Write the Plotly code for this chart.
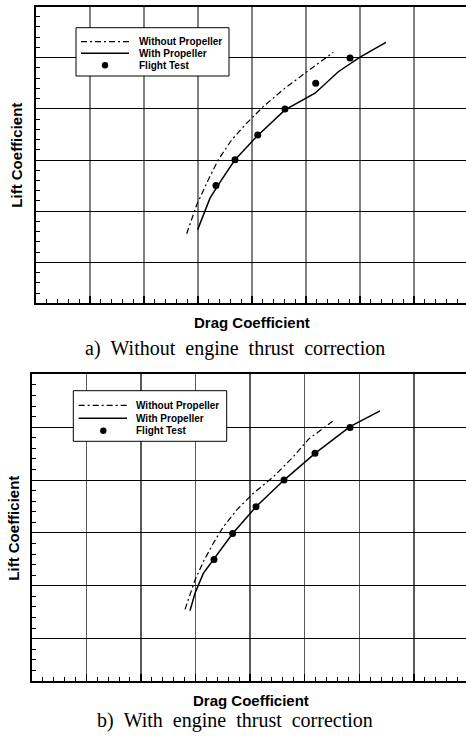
import plotly.graph_objects as go

# ---------------- data (arbitrary units, no tick labels) -------------
# a) Without engine thrust correction
a_without_x = [0.02791, 0.02976, 0.03191, 0.03376, 0.03624, 0.03902, 0.04209, 0.04611, 0.05106, 0.05506]
a_without_y = [0.312, 0.425, 0.523, 0.601, 0.679, 0.744, 0.809, 0.881, 0.959, 1.021]
a_with_x = [0.02994, 0.03098, 0.03222, 0.03439, 0.03685, 0.04087, 0.04611, 0.05167, 0.05598, 0.06000, 0.06481]
a_with_y = [0.328, 0.386, 0.451, 0.523, 0.601, 0.692, 0.796, 0.861, 0.945, 1.002, 1.060]
a_test_x = [0.03333, 0.03685, 0.04106, 0.04611, 0.05180, 0.05815]
a_test_y = [0.500, 0.601, 0.698, 0.799, 0.900, 0.999]

# b) With engine thrust correction
b_without_x = [0.02808, 0.02991, 0.03143, 0.03326, 0.03509, 0.03755, 0.04059, 0.04425, 0.04791, 0.05066, 0.05524]
b_without_y = [0.311, 0.422, 0.491, 0.561, 0.623, 0.687, 0.750, 0.812, 0.888, 0.954, 1.024]
b_with_x = [0.02899, 0.02991, 0.03143, 0.03326, 0.03681, 0.04108, 0.04621, 0.05189, 0.05830, 0.06379]
b_with_y = [0.306, 0.372, 0.447, 0.500, 0.598, 0.699, 0.800, 0.901, 1.002, 1.062]
b_test_x = [0.03339, 0.03681, 0.04108, 0.04621, 0.05189, 0.05830]
b_test_y = [0.500, 0.598, 0.699, 0.800, 0.901, 0.999]

legend_labels = ["Without Propeller", "With Propeller", "Flight Test"]
x_title = "Drag Coefficient"
y_title = "Lift Coefficient"
captions = ["a)  Without  engine  thrust  correction", "b)  With  engine  thrust  correction"]

# ---------------- figure ----------------
W, H = 466, 736
DASHDOT = "6px,3px,2px,3px"
SANS = "Liberation Sans, Arial, sans-serif"
SERIF = "Liberation Serif, Times New Roman, serif"

fig = go.Figure()

def add_panel(xw, yw, xs, ys, xt, yt, xa, ya):
    fig.add_trace(go.Scatter(x=xw, y=yw, mode="lines", xaxis=xa, yaxis=ya, showlegend=False,
                             line=dict(color="black", width=1.2, dash=DASHDOT)))
    fig.add_trace(go.Scatter(x=xs, y=ys, mode="lines", xaxis=xa, yaxis=ya, showlegend=False,
                             line=dict(color="black", width=1.5)))
    fig.add_trace(go.Scatter(x=xt, y=yt, mode="markers", xaxis=xa, yaxis=ya, showlegend=False,
                             marker=dict(color="black", size=7, symbol="circle")))

add_panel(a_without_x, a_without_y, a_with_x, a_with_y, a_test_x, a_test_y, "x", "y")
add_panel(b_without_x, b_without_y, b_with_x, b_with_y, b_test_x, b_test_y, "x2", "y2")

def px_x(p):
    return p / W

def px_y(p):
    return 1 - p / H

def xaxis_cfg(left_px, step_px, gridcolor):
    width_px = W - left_px
    return dict(domain=[px_x(left_px), 1], range=[0, width_px / step_px * 0.01],
                showline=True, linecolor="black", linewidth=2, mirror=True,
                showgrid=True, gridcolor=gridcolor, gridwidth=1.4,
                zeroline=False, showticklabels=False,
                ticks="inside", ticklen=7, tickwidth=1.5, tickcolor="black",
                tick0=0, dtick=0.01,
                minor=dict(ticks="inside", ticklen=4, tickwidth=1, tickcolor="black",
                           dtick=0.002, showgrid=False),
                fixedrange=True)

def yaxis_cfg(top_px, bottom_px, anchor):
    return dict(domain=[px_y(bottom_px), px_y(top_px)], range=[0.04, 1.2], anchor=anchor,
                showline=True, linecolor="black", linewidth=2, mirror=False,
                showgrid=True, gridcolor="black", gridwidth=1,
                zeroline=False, showticklabels=False,
                ticks="inside", ticklen=6, tickwidth=1, tickcolor="black",
                tick0=0.2, dtick=0.2,
                minor=dict(ticks="inside", ticklen=4, tickwidth=1, tickcolor="black",
                           dtick=0.04, showgrid=False),
                fixedrange=True)

fig.update_layout(
    width=W, height=H,
    margin=dict(l=0, r=0, t=0, b=0),
    paper_bgcolor="white", plot_bgcolor="white",
    showlegend=False,
    xaxis=dict(xaxis_cfg(36, 54, "#808080"), anchor="y"),
    yaxis=yaxis_cfg(6.5, 303.3, "x"),
    xaxis2=dict(xaxis_cfg(31.7, 54.6, "#5a5a5a"), anchor="y2"),
    yaxis2=yaxis_cfg(374.3, 681, "x2"),
)

shapes = []
annotations = []

def add_legend(box, line_x0, line_x1, rows, marker_x, text_x):
    x0, y0, x1, y1 = box
    shapes.append(dict(type="rect", xref="paper", yref="paper",
                       x0=px_x(x0), x1=px_x(x1), y0=px_y(y1), y1=px_y(y0),
                       line=dict(color="black", width=1), fillcolor="white", layer="above"))
    shapes.append(dict(type="line", xref="paper", yref="paper",
                       x0=px_x(line_x0), x1=px_x(line_x1), y0=px_y(rows[0]), y1=px_y(rows[0]),
                       line=dict(color="black", width=1.2, dash=DASHDOT), layer="above"))
    shapes.append(dict(type="line", xref="paper", yref="paper",
                       x0=px_x(line_x0), x1=px_x(line_x1), y0=px_y(rows[1]), y1=px_y(rows[1]),
                       line=dict(color="black", width=1.5), layer="above"))
    r = 3.2
    shapes.append(dict(type="circle", xref="paper", yref="paper",
                       x0=px_x(marker_x - r), x1=px_x(marker_x + r),
                       y0=px_y(rows[2] + r), y1=px_y(rows[2] - r),
                       line=dict(color="black", width=0), fillcolor="black", layer="above"))
    for lab, ry in zip(legend_labels, rows):
        annotations.append(dict(text=lab, xref="paper", yref="paper", x=px_x(text_x), y=px_y(ry),
                                xanchor="left", yanchor="middle", showarrow=False,
                                font=dict(family=SANS, size=10, color="black", weight="bold")))

add_legend((76, 27.7, 229, 76), 81, 129, [41.7, 53.3, 65.3], 105, 136.5)
add_legend((73.3, 390.7, 226.7, 441.3), 78.7, 127, [405.3, 418.3, 430.7], 103.3, 133.8)

def add_titles(xt_pos, yt_pos, cap_pos, caption):
    annotations.append(dict(text=x_title, xref="paper", yref="paper",
                            x=px_x(xt_pos[0]), y=px_y(xt_pos[1]), xanchor="center", yanchor="middle",
                            showarrow=False, font=dict(family=SANS, size=15, color="black", weight="bold")))
    annotations.append(dict(text=y_title, xref="paper", yref="paper", textangle=-90,
                            x=px_x(yt_pos[0]), y=px_y(yt_pos[1]), xanchor="center", yanchor="middle",
                            showarrow=False, font=dict(family=SANS, size=15, color="black", weight="bold")))
    annotations.append(dict(text=caption.replace("  ", " \u00a0"), xref="paper", yref="paper",
                            x=px_x(cap_pos[0]), y=px_y(cap_pos[1]), xanchor="center", yanchor="middle",
                            showarrow=False, font=dict(family=SERIF, size=20, color="black")))

add_titles((252, 323), (15.7, 155), (235, 348), captions[0])
add_titles((251, 700.5), (12.7, 528), (235, 720), captions[1])

fig.update_layout(shapes=shapes, annotations=annotations)

fig.write_html("out.html", config={"displayModeBar": False, "staticPlot": True})
